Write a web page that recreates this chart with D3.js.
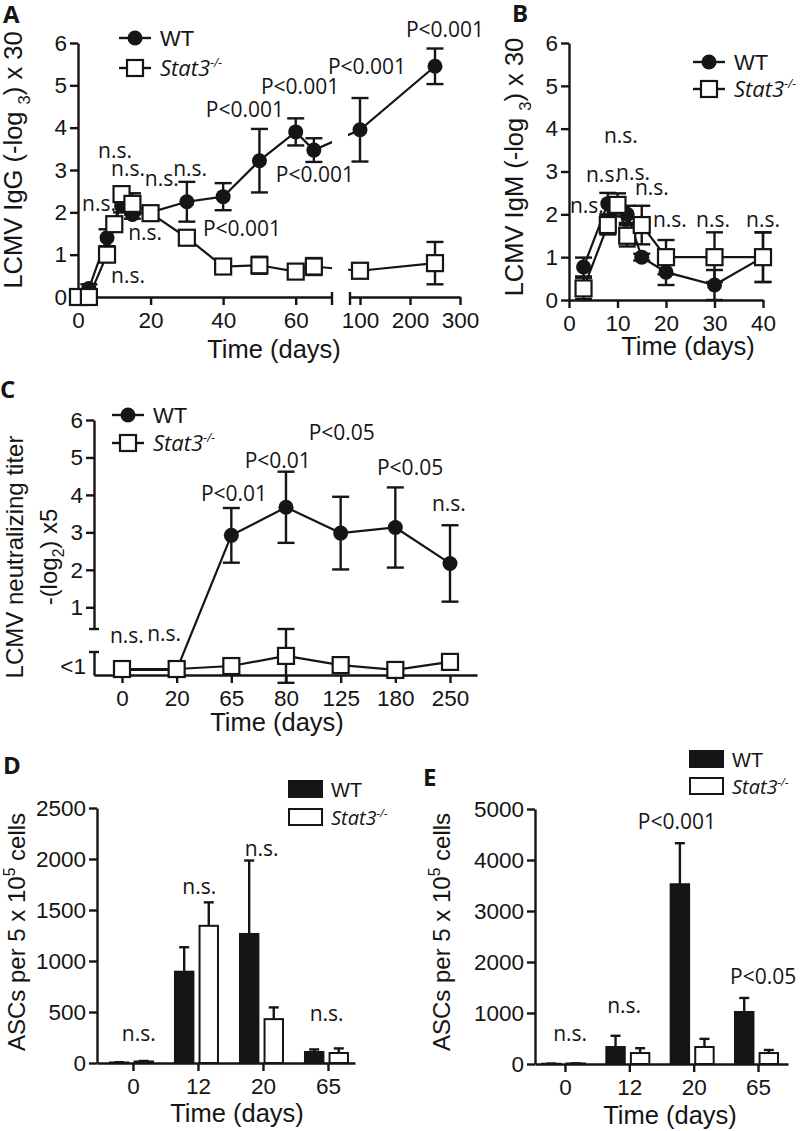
<!DOCTYPE html>
<html>
<head>
<meta charset="utf-8">
<script src="https://cdn.jsdelivr.net/npm/d3@7"></script>
<style>
  body { margin: 0; background: #fff; }
</style>
</head>
<body>
<svg id="fig" width="800" height="1131"></svg>
<script>
// ---------------- data ----------------
// A: LCMV IgG
var daysA_wt = [0, 3, 8, 12, 15, 20, 30, 40, 50, 60, 65, 100, 250];
var igG_wt = [0, 0.2, 1.4, 2.15, 1.95, 2.0, 2.25, 2.37, 3.22, 3.9, 3.47, 3.95, 5.45];
var igG_wt_err = [0.05, 0.1, 0.2, 0.15, 0.1, 0.1, 0.47, 0.32, 0.75, 0.32, 0.28, 0.75, 0.42];
var daysA_ko = [0, 3, 8, 10, 12, 15, 20, 30, 40, 50, 60, 65, 100, 250];
var igG_ko = [0, 0, 1.0, 1.72, 2.43, 2.2, 1.98, 1.4, 0.72, 0.75, 0.6, 0.72, 0.62, 0.8];
var igG_ko_err = [0, 0, 0.15, 0.1, 0.1, 0.25, 0.1, 0.1, 0.08, 0.2, 0.1, 0.2, 0.17, 0.5];
var notesA = [["n.s.", 10.2, 3.28], ["n.s.", 13.8, 2.86], ["n.s.", 23.1, 2.62], ["n.s.", 30.9, 2.86],
              ["n.s.", 5.8, 2.03], ["n.s.", 18.5, 1.35], ["n.s.", 13.8, 0.33], ["P<0.001", 45.2, 1.44],
              ["P<0.001", 46, 4.25], ["P<0.001", 61.2, 4.8], ["P<0.001", 65.3, 2.72],
              ["P<0.001", 114, 5.27], ["P<0.001", 270, 6.14]];

// B: LCMV IgM
var daysB_wt = [3, 8, 12, 15, 20, 30, 40];
var igM_wt = [0.77, 2.25, 2.0, 1.0, 0.65, 0.35, 1.0];
var igM_wt_err = [0.22, 0.25, 0.2, 0.08, 0.3, 0.35, 0.58];
var daysB_ko = [3, 8, 10, 12, 15, 20, 30, 40];
var igM_ko = [0.27, 1.75, 2.22, 1.5, 1.75, 1.0, 1.0, 1.0];
var igM_ko_err = [0.25, 0.22, 0.27, 0.25, 0.45, 0.4, 0.58, 0.58];
var notesB = [["n.s.", 10.7, 3.67], ["n.s.", 7.0, 2.76], ["n.s.", 13.2, 2.8], ["n.s.", 17.1, 2.45],
              ["n.s.", 3.7, 2.03], ["n.s.", 20.8, 1.7], ["n.s.", 29.7, 1.7], ["n.s.", 40, 1.7]];

// C: neutralizing titer (values below 1 sit on the "<1" segment)
var daysC = ["0", "20", "65", "80", "125", "180", "250"];
var neut_wt = [0.22, 0.22, 2.92, 3.67, 2.98, 3.13, 2.17];
var neut_wt_err = [0, 0, 0.73, 0.95, 0.97, 1.07, 1.02];
var neut_ko = [0.26, 0.26, 0.39, 0.83, 0.43, 0.22, 0.57];
var neut_ko_err = [0, 0, 0, 1.17, 0, 0, 0];
var notesC = [["n.s.", 0.09, 0.05], ["n.s.", 0.77, 0.1], ["P<0.01", 2.05, 3.84], ["P<0.01", 2.85, 4.72],
              ["P<0.05", 4.02, 5.47], ["P<0.05", 5.27, 4.53], ["n.s.", 5.98, 3.57]];

// D, E: ASCs per 5x10^5 cells
var catsDE = ["0", "12", "20", "65"];
var ascD_wt = [5, 895, 1265, 108];
var ascD_wt_err = [3, 240, 720, 25];
var ascD_ko = [15, 1345, 430, 98];
var ascD_ko_err = [5, 230, 115, 45];
var notesD = [["n.s.", 0.09, 216], ["n.s.", 1.02, 1652], ["n.s.", 1.98, 2026], ["n.s.", 2.98, 413]];

var ascE_wt = [5, 333, 3525, 1020];
var ascE_wt_err = [3, 220, 805, 275];
var ascE_ko = [10, 215, 333, 215];
var ascE_ko_err = [3, 95, 160, 60];
var notesE = [["n.s.", 0.08, 451], ["n.s.", 0.92, 1000], ["P<0.001", 1.74, 4608], ["P<0.05", 3.08, 1569]];

// ---------------- helpers ----------------
var INK = "#151515";
var SANS = "'Liberation Sans', Arial, sans-serif";
var NOTE = "'Open Sans', sans-serif";
var svg = d3.select("#fig");

function styleAxis(g) {
  g.attr("font-size", null).attr("font-family", null);
  g.select(".domain").attr("stroke", INK).attr("stroke-width", 2.4);
  g.selectAll(".tick line").attr("stroke", INK).attr("stroke-width", 2.4);
  g.selectAll(".tick text").attr("font-family", SANS).attr("font-size", 22.5).attr("fill", INK);
}

function yTitle(x, y, parts, fs) {
  var t = svg.append("text")
    .attr("transform", "translate(" + x + "," + y + ") rotate(-90)")
    .attr("text-anchor", "middle").attr("font-family", SANS).attr("font-size", fs).attr("fill", INK);
  parts.forEach(function(p) {
    var s = t.append("tspan").text(p[0]);
    if (p[1] == "sub") s.attr("font-size", fs * 0.65).attr("dy", fs * 0.3);
    if (p[1] == "sup") s.attr("font-size", fs * 0.65).attr("dy", -fs * 0.4);
    if (p[1] == "back") s.attr("dy", -fs * 0.3);
    if (p[1] == "down") s.attr("dy", fs * 0.4);
  });
}

function xTitle(x, y) {
  svg.append("text").attr("x", x).attr("y", y).attr("text-anchor", "middle")
    .attr("font-family", SANS).attr("font-size", 25.5).attr("fill", INK).text("Time (days)");
}

function panelLetter(x, y, s) {
  svg.append("text").attr("x", x).attr("y", y).attr("font-family", NOTE).attr("font-weight", 700)
    .attr("font-size", 24).attr("fill", INK).text(s);
}

function stat3Label(g, x, y, fs) {
  var t = g.append("text").attr("x", x).attr("y", y).attr("fill", INK);
  t.append("tspan").attr("font-family", NOTE).attr("font-style", "italic").attr("font-size", fs).text("Stat3");
  t.append("tspan").attr("font-family", NOTE).attr("font-style", "italic").attr("font-size", fs * 0.55)
    .attr("dy", -fs * 0.42).text("-/-");
}

function lineLegend(cx, cy, gap) {
  var g = svg.append("g");
  g.append("line").attr("x1", cx - 16).attr("x2", cx + 16).attr("y1", cy).attr("y2", cy)
    .attr("stroke", INK).attr("stroke-width", 2.4);
  g.append("circle").attr("cx", cx).attr("cy", cy).attr("r", 7.5).attr("fill", INK);
  g.append("text").attr("x", cx + 25).attr("y", cy + 8).attr("font-family", SANS).attr("font-size", 22)
    .attr("fill", INK).text("WT");
  g.append("line").attr("x1", cx - 16).attr("x2", cx + 16).attr("y1", cy + gap).attr("y2", cy + gap)
    .attr("stroke", INK).attr("stroke-width", 2.4);
  g.append("rect").attr("x", cx - 8).attr("y", cy + gap - 8).attr("width", 16).attr("height", 16)
    .attr("fill", "#fff").attr("stroke", INK).attr("stroke-width", 2.2);
  stat3Label(g, cx + 25, cy + gap + 8, 22);
}

function barLegend(x, y, gap, fs) {
  var g = svg.append("g");
  g.append("rect").attr("x", x).attr("y", y).attr("width", 33).attr("height", 16)
    .attr("fill", INK).attr("stroke", INK).attr("stroke-width", 2);
  g.append("text").attr("x", x + 42).attr("y", y + 16).attr("font-family", SANS).attr("font-size", fs)
    .attr("fill", INK).text("WT");
  g.append("rect").attr("x", x).attr("y", y + gap).attr("width", 33).attr("height", 16)
    .attr("fill", "#fff").attr("stroke", INK).attr("stroke-width", 2);
  stat3Label(g, x + 42, y + gap + 16, fs);
}

function notes(list, xf, yf) {
  svg.append("g").selectAll("text").data(list).join("text")
    .attr("x", function(d) { return xf(d[1]); })
    .attr("y", function(d) { return yf(d[2]); })
    .attr("text-anchor", "middle").attr("font-family", NOTE).attr("font-size", 21).attr("fill", INK)
    .text(function(d) { return d[0]; });
}

function toPts(xs, ys, es) {
  return xs.map(function(x, i) { return { x: x, y: ys[i], e: es[i] }; });
}

function seriesLine(g, pts, xf, ypos, clip) {
  var line = d3.line().x(function(d) { return xf(d.x); }).y(function(d) { return ypos(d, d.y); });
  g.append("path").datum(pts).attr("d", line).attr("fill", "none")
    .attr("stroke", INK).attr("stroke-width", 2.2)
    .attr("clip-path", clip ? "url(#" + clip + ")" : null);
}

function seriesMarks(g, pts, xf, ypos, shape) {
  var eb = g.append("g").selectAll("g").data(pts.filter(function(d) { return d.e > 0; })).join("g");
  eb.append("line")
    .attr("x1", function(d) { return xf(d.x); }).attr("x2", function(d) { return xf(d.x); })
    .attr("y1", function(d) { return ypos(d, d.y - d.e); }).attr("y2", function(d) { return ypos(d, d.y + d.e); })
    .attr("stroke", INK).attr("stroke-width", 2.4);
  [-1, 1].forEach(function(s) {
    eb.append("line")
      .attr("x1", function(d) { return xf(d.x) - 8.5; }).attr("x2", function(d) { return xf(d.x) + 8.5; })
      .attr("y1", function(d) { return ypos(d, d.y + s * d.e); }).attr("y2", function(d) { return ypos(d, d.y + s * d.e); })
      .attr("stroke", INK).attr("stroke-width", 2.4);
  });
  if (shape == "circle") {
    g.append("g").selectAll("circle").data(pts).join("circle")
      .attr("cx", function(d) { return xf(d.x); }).attr("cy", function(d) { return ypos(d, d.y); })
      .attr("r", 7.5).attr("fill", INK);
  } else {
    g.append("g").selectAll("rect").data(pts).join("rect")
      .attr("x", function(d) { return xf(d.x) - 8; }).attr("y", function(d) { return ypos(d, d.y) - 8; })
      .attr("width", 16).attr("height", 16)
      .attr("fill", "#fff").attr("stroke", INK).attr("stroke-width", 2.2);
  }
}

var fmt = d3.format("d");

// ---------------- panel A ----------------
var yA = d3.scaleLinear().domain([0, 6]).range([297, 43]);
var xA1 = d3.scaleLinear().domain([0, 70]).range([78, 332]);
var xA2 = d3.scaleLinear().domain([80, 300]).range([350, 460]);
function xA(d) { return d <= 70 ? xA1(d) : xA2(d); }
function yAp(d, v) { return yA(v); }

var defs = svg.append("defs");
var clipA = defs.append("clipPath").attr("id", "clipA");
clipA.append("rect").attr("x", 0).attr("y", 0).attr("width", 332).attr("height", 400);
clipA.append("rect").attr("x", 348).attr("y", 0).attr("width", 452).attr("height", 400);

var gA = svg.append("g");
gA.append("g").attr("transform", "translate(78,0)")
  .call(d3.axisLeft(yA).tickValues([0, 1, 2, 3, 4, 5, 6]).tickFormat(fmt).tickSize(8).tickSizeOuter(0).tickPadding(3))
  .call(styleAxis);
gA.append("g").attr("transform", "translate(0,297)")
  .call(d3.axisBottom(xA1).tickValues([0, 20, 40, 60]).tickFormat(fmt).tickSize(8).tickSizeOuter(0).tickPadding(7))
  .call(styleAxis);
gA.append("g").attr("transform", "translate(0,297)")
  .call(d3.axisBottom(xA2).tickValues([100, 200, 300]).tickFormat(fmt).tickSize(8).tickSizeOuter(0).tickPadding(7))
  .call(styleAxis);
// break caps on the x axis
gA.append("g").selectAll("line").data([xA1.range()[1], xA2.range()[0]]).join("line")
  .attr("x1", function(d) { return d; }).attr("x2", function(d) { return d; })
  .attr("y1", 292).attr("y2", 305)
  .attr("stroke", INK).attr("stroke-width", 2.4);

var ptsA_wt = toPts(daysA_wt, igG_wt, igG_wt_err);
var ptsA_ko = toPts(daysA_ko, igG_ko, igG_ko_err);
seriesLine(gA, ptsA_wt, xA, yAp, "clipA");
seriesLine(gA, ptsA_ko, xA, yAp, "clipA");
seriesMarks(gA, ptsA_wt, xA, yAp, "circle");
seriesMarks(gA, ptsA_ko, xA, yAp, "square");
notes(notesA, xA, yA);
lineLegend(135, 38, 30);
yTitle(22, 160, [["LCMV IgG (-log "], ["3", "sub"], [") x 30", "back"]], 25.5);
xTitle(274, 358);
panelLetter(3, 23, "A");

// ---------------- panel B ----------------
var yB = d3.scaleLinear().domain([0, 6]).range([300, 43]);
var xB = d3.scaleLinear().domain([0, 40]).range([569, 763]);
function yBp(d, v) { return yB(v); }
var gB = svg.append("g");
gB.append("g").attr("transform", "translate(569,0)")
  .call(d3.axisLeft(yB).tickValues([0, 1, 2, 3, 4, 5, 6]).tickFormat(fmt).tickSize(8).tickSizeOuter(0).tickPadding(3))
  .call(styleAxis);
gB.append("g").attr("transform", "translate(0,300)")
  .call(d3.axisBottom(xB).tickValues([0, 10, 20, 30, 40]).tickFormat(fmt).tickSize(8).tickSizeOuter(0).tickPadding(7))
  .call(styleAxis);
var ptsB_wt = toPts(daysB_wt, igM_wt, igM_wt_err);
var ptsB_ko = toPts(daysB_ko, igM_ko, igM_ko_err);
seriesLine(gB, ptsB_wt, xB, yBp);
seriesLine(gB, ptsB_ko, xB, yBp);
seriesMarks(gB, ptsB_wt, xB, yBp, "circle");
seriesMarks(gB, ptsB_ko, xB, yBp, "square");
notes(notesB, xB, yB);
lineLegend(709, 62, 27);
yTitle(523, 167, [["LCMV IgM (-log "], ["3", "sub"], [") x 30", "back"]], 25.5);
xTitle(688, 355);
panelLetter(512, 22, "B");

// ---------------- panel C ----------------
var xC = d3.scalePoint().domain(daysC).range([94, 477]).padding(0.503).align(0.509);
var yCup = d3.scaleLinear().domain([0.42, 6]).range([629, 420]);
var yClo = d3.scaleLinear().domain([0, 1]).range([675, 652]);
function yCp(d, v) { return (d.y < 1 ? yClo : yCup)(v); }
function xCi(i) { return xC(daysC[0]) + i * xC.step(); }
var gC = svg.append("g");
gC.append("g").attr("transform", "translate(94,0)")
  .call(d3.axisLeft(yCup).tickValues([1, 2, 3, 4, 5, 6]).tickFormat(fmt).tickSize(8).tickSizeOuter(0).tickPadding(3))
  .call(styleAxis);
gC.append("g").attr("transform", "translate(94,0)")
  .call(d3.axisLeft(yClo).tickValues([0.4]).tickFormat(function() { return "<1"; })
    .tickSize(0).tickSizeOuter(0).tickPadding(8))
  .call(styleAxis);
// break caps on the y axis
gC.append("g").selectAll("line").data([yCup(0.42), yClo(1)]).join("line")
  .attr("x1", 89).attr("x2", 99).attr("y1", function(d) { return d; }).attr("y2", function(d) { return d; })
  .attr("stroke", INK).attr("stroke-width", 2.4);
gC.append("g").attr("transform", "translate(0,675)")
  .call(d3.axisBottom(xC).tickSize(8).tickSizeOuter(0).tickPadding(7))
  .call(styleAxis);
var ptsC_wt = toPts(daysC, neut_wt, neut_wt_err);
var ptsC_ko = toPts(daysC, neut_ko, neut_ko_err);
seriesLine(gC, ptsC_wt, xC, yCp);
seriesLine(gC, ptsC_ko, xC, yCp);
seriesMarks(gC, ptsC_wt, xC, yCp, "circle");
seriesMarks(gC, ptsC_ko, xC, yCp, "square");
notes(notesC, xCi, yCup);
lineLegend(128, 415, 28);
yTitle(23, 557, [["LCMV neutralizing titer"]], 24);
yTitle(57, 557, [["-(log"], ["2", "sub"], [") x5", "back"]], 24);
xTitle(277, 731);
panelLetter(0, 398, "C");

// ---------------- panels D, E ----------------
function barPanel(cats, wt, wtErr, ko, koErr, x, y, yTicks, notesList) {
  var g = svg.append("g");
  var sub = d3.scaleBand().domain(["wt", "ko"]).range([-23, 20]).paddingInner(0.25);
  var x0 = x.range()[0];
  g.append("g").attr("transform", "translate(" + x0 + ",0)")
    .call(d3.axisLeft(y).tickValues(yTicks).tickFormat(fmt).tickSize(8).tickSizeOuter(0).tickPadding(3))
    .call(styleAxis);
  g.append("g").attr("transform", "translate(0," + y(0) + ")")
    .call(d3.axisBottom(x).tickSize(8).tickSizeOuter(0).tickPadding(7))
    .call(styleAxis);
  var rows = cats.map(function(c, i) {
    return [{ c: c, k: "wt", v: wt[i], e: wtErr[i] }, { c: c, k: "ko", v: ko[i], e: koErr[i] }];
  });
  var data = [].concat.apply([], rows);
  var cx = function(d) { return x(d.c) + sub(d.k) + sub.bandwidth() / 2; };
  g.append("g").selectAll("line").data(data).join("line")
    .attr("x1", cx).attr("x2", cx)
    .attr("y1", function(d) { return y(d.v); }).attr("y2", function(d) { return y(d.v + d.e); })
    .attr("stroke", INK).attr("stroke-width", 2.4);
  g.append("g").selectAll("line").data(data).join("line")
    .attr("x1", function(d) { return cx(d) - 5; }).attr("x2", function(d) { return cx(d) + 5; })
    .attr("y1", function(d) { return y(d.v + d.e); }).attr("y2", function(d) { return y(d.v + d.e); })
    .attr("stroke", INK).attr("stroke-width", 2.4);
  g.append("g").selectAll("rect").data(data).join("rect")
    .attr("x", function(d) { return x(d.c) + sub(d.k); })
    .attr("y", function(d) { return y(d.v); })
    .attr("width", sub.bandwidth())
    .attr("height", function(d) { return y(0) - y(d.v); })
    .attr("fill", function(d) { return d.k == "wt" ? INK : "#fff"; })
    .attr("stroke", INK).attr("stroke-width", 2);
  var xi = function(i) { return x(cats[0]) + i * x.step(); };
  notes(notesList, xi, y);
}

var xD = d3.scalePoint().domain(catsDE).range([97, 355]).padding(0.4846).align(0.571);
var yD = d3.scaleLinear().domain([0, 2500]).range([1063, 808]);
barPanel(catsDE, ascD_wt, ascD_wt_err, ascD_ko, ascD_ko_err, xD, yD, [0, 500, 1000, 1500, 2000, 2500], notesD);
barLegend(289, 781, 28, 20);
yTitle(25, 932, [["ASCs per 5 x 10"], ["5", "sup"], [" cells", "down"]], 24);
xTitle(237, 1122);
panelLetter(3, 774, "D");

var xE = d3.scalePoint().domain(catsDE).range([535, 788]).padding(0.466).align(0.5);
var yE = d3.scaleLinear().domain([0, 5000]).range([1064, 809]);
barPanel(catsDE, ascE_wt, ascE_wt_err, ascE_ko, ascE_ko_err, xE, yE, [0, 1000, 2000, 3000, 4000, 5000], notesE);
barLegend(690, 751, 27, 20);
yTitle(450, 932, [["ASCs per 5 x 10"], ["5", "sup"], [" cells", "down"]], 24);
xTitle(670, 1124);
panelLetter(423, 786, "E");
</script>
</body>
</html>
